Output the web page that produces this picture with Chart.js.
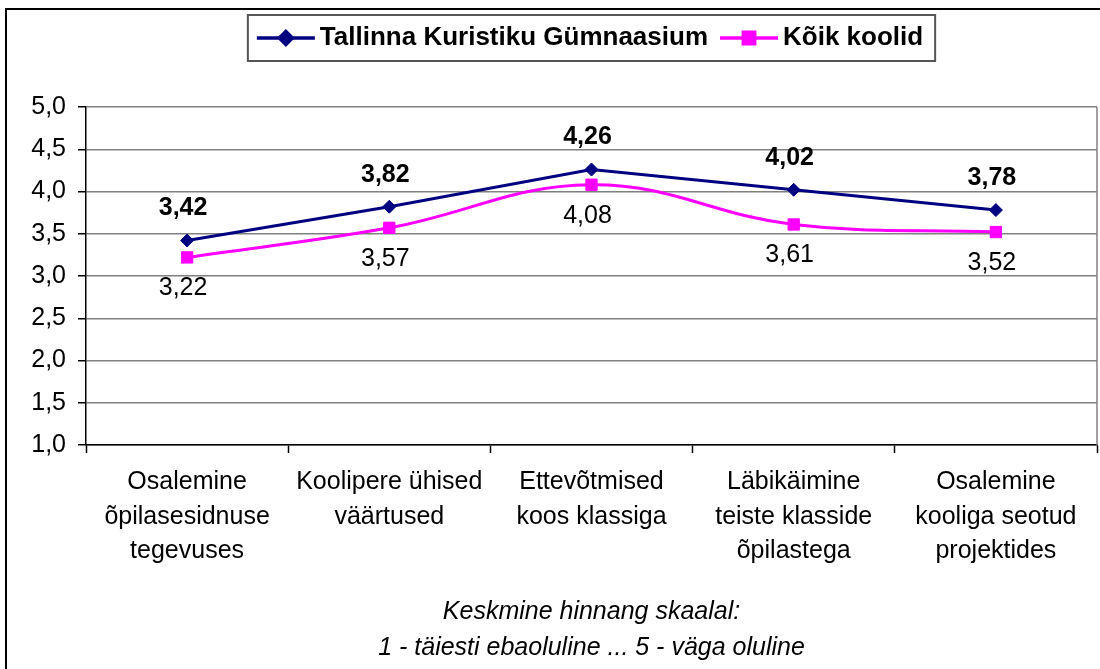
<!DOCTYPE html>
<html lang="et">
<head>
<meta charset="utf-8">
<title>Tallinna Kuristiku Gümnaasium</title>
<script src="https://cdn.jsdelivr.net/npm/chart.js@4.4.1/dist/chart.umd.min.js"></script>
<style>
    html, body { margin: 0; padding: 0; background: #fff; overflow: hidden; width: 1100px; height: 669px; }
    .frame { position: absolute; left: 5px; top: 8px; width: 1200px; height: 800px; border: 2px solid #000; }
    .wrap { position: absolute; left: 0; top: 0; width: 1106px; height: 669px; }
</style>
</head>
<body>
<div class="frame"></div>
<div class="wrap"><canvas id="surveyChart"></canvas></div>
<script>
// ========== DATA ==========
const categories = [
    ['Osalemine', 'õpilasesidnuse', 'tegevuses'],
    ['Koolipere ühised', 'väärtused'],
    ['Ettevõtmised', 'koos klassiga'],
    ['Läbikäimine', 'teiste klasside', 'õpilastega'],
    ['Osalemine', 'kooliga seotud', 'projektides']
];
const seriesNames = ['Tallinna Kuristiku Gümnaasium', 'Kõik koolid'];
const schoolValues = [3.42, 3.82, 4.26, 4.02, 3.78];
const allSchoolsValues = [3.22, 3.57, 4.08, 3.61, 3.52];
const yTicks = [1.0, 1.5, 2.0, 2.5, 3.0, 3.5, 4.0, 4.5, 5.0];
const axisTitle = ['Keskmine hinnang skaalal:', '1 - täiesti ebaoluline ... 5 - väga oluline'];

// ========== HELPERS ==========
const FONT = "'Liberation Sans', Arial, sans-serif";
const NAVY = '#000080';
const MAGENTA = '#FF00FF';

const commaNum = (value, digits) => value.toFixed(digits).replace('.', ',');

// ========== PLUGINS ==========
// value labels: bold above for the school, plain below for all schools
const valueLabels = {
    id: 'valueLabels',
    afterDatasetsDraw(chart) {
        const ctx = chart.ctx;
        ctx.save();
        ctx.fillStyle = '#000';
        ctx.textAlign = 'center';
        ctx.textBaseline = 'middle';
        chart.data.datasets.forEach((ds, i) => {
            const meta = chart.getDatasetMeta(i);
            const above = i === 0;
            ctx.font = (above ? 'bold ' : '') + '25px ' + FONT;
            meta.data.forEach((pt, j) => {
                const y = above ? pt.y - 32 : pt.y + 31;
                ctx.fillText(commaNum(ds.data[j], 2), pt.x - 4, y);
            });
        });
        ctx.restore();
    }
};

// plot area right edge + boxed legend with line/marker samples
const frameAndLegend = {
    id: 'frameAndLegend',
    beforeDatasetsDraw(chart) {
        const { ctx, chartArea } = chart;
        ctx.save();
        ctx.strokeStyle = '#808080';
        ctx.lineWidth = 1.5;
        ctx.beginPath();
        ctx.moveTo(chartArea.right, chartArea.top);
        ctx.lineTo(chartArea.right, chartArea.bottom);
        ctx.stroke();
        ctx.restore();
    },
    afterDraw(chart) {
        const { ctx, chartArea } = chart;
        const sample = 58, gap = 5, itemGap = 12, padL = 9, padR = 12;
        const top = 15, height = 46, midY = top + height / 2;

        ctx.save();
        ctx.font = 'bold 26px ' + FONT;
        const widths = chart.data.datasets.map(ds => ctx.measureText(ds.label).width);
        const total = padL + padR + widths.reduce((s, w) => s + sample + gap + w, 0) + itemGap * (widths.length - 1);
        const left = (chartArea.left + chartArea.right) / 2 - total / 2;

        ctx.fillStyle = '#fff';
        ctx.fillRect(left, top, total, height);
        ctx.strokeStyle = '#555';
        ctx.lineWidth = 2;
        ctx.strokeRect(left, top, total, height);

        let x = left + padL;
        chart.data.datasets.forEach((ds, i) => {
            ctx.strokeStyle = ds.borderColor;
            ctx.lineWidth = 3.5;
            ctx.beginPath();
            ctx.moveTo(x, midY);
            ctx.lineTo(x + sample, midY);
            ctx.stroke();
            Chart.helpers.drawPoint(ctx, {
                pointStyle: ds.pointStyle,
                radius: ds.pointRadius,
                borderWidth: 1
            }, x + sample / 2, midY);
            ctx.fillStyle = ds.pointBackgroundColor;
            ctx.fill();

            ctx.fillStyle = '#000';
            ctx.textAlign = 'left';
            ctx.textBaseline = 'middle';
            ctx.fillText(ds.label, x + sample + gap, midY);
            x += sample + gap + widths[i] + itemGap;
        });
        ctx.restore();
    }
};

// ========== CHART ==========
const ctx = document.getElementById('surveyChart').getContext('2d');

new Chart(ctx, {
    type: 'line',
    data: {
        labels: categories,
        datasets: [{
            label: seriesNames[0],
            data: schoolValues,
            borderColor: NAVY,
            backgroundColor: NAVY,
            pointBackgroundColor: NAVY,
            pointBorderColor: NAVY,
            borderWidth: 3,
            pointStyle: 'rectRot',
            pointRadius: 6.5,
            pointBorderWidth: 1,
            tension: 0
        }, {
            label: seriesNames[1],
            data: allSchoolsValues,
            borderColor: MAGENTA,
            backgroundColor: MAGENTA,
            pointBackgroundColor: MAGENTA,
            pointBorderColor: MAGENTA,
            borderWidth: 3,
            pointStyle: 'rect',
            pointRadius: 8,
            pointBorderWidth: 1,
            tension: 0.4
        }]
    },
    options: {
        responsive: true,
        maintainAspectRatio: false,
        animation: false,
        devicePixelRatio: 1,
        layout: { padding: { top: 107, right: 4, bottom: 0, left: 0 } },
        plugins: {
            legend: { display: false },
            tooltip: { enabled: false }
        },
        scales: {
            x: {
                offset: true,
                afterFit: (scale) => {
                    scale.height = 224;
                    scale.paddingLeft = 0;
                    scale.paddingRight = 0;
                },
                grid: {
                    offset: true,
                    drawOnChartArea: false,
                    tickLength: 8,
                    tickColor: '#000',
                    tickWidth: 1.5
                },
                border: { color: '#000', width: 1.5 },
                ticks: {
                    color: '#000',
                    padding: 12,
                    maxRotation: 0,
                    autoSkip: false,
                    font: { family: FONT, size: 25, lineHeight: 1.38 }
                },
                title: {
                    display: true,
                    text: axisTitle,
                    color: '#000',
                    padding: { top: 0, bottom: 3 },
                    font: { family: FONT, size: 25, style: 'italic', lineHeight: 1.44 }
                }
            },
            y: {
                min: yTicks[0],
                max: yTicks[yTicks.length - 1],
                afterFit: (scale) => {
                    scale.width = 86;
                    scale.paddingTop = 0;
                    scale.paddingBottom = 0;
                },
                afterBuildTicks: (scale) => {
                    scale.ticks = yTicks.map(v => ({ value: v }));
                },
                grid: {
                    color: '#808080',
                    lineWidth: 1.5,
                    tickLength: 8,
                    tickColor: '#000',
                    tickWidth: 1.5
                },
                border: { color: '#000', width: 1.5 },
                ticks: {
                    color: '#000',
                    padding: 12,
                    font: { family: FONT, size: 25 },
                    callback: (value) => commaNum(value, 1)
                }
            }
        }
    },
    plugins: [frameAndLegend, valueLabels]
});
</script>
</body>
</html>
